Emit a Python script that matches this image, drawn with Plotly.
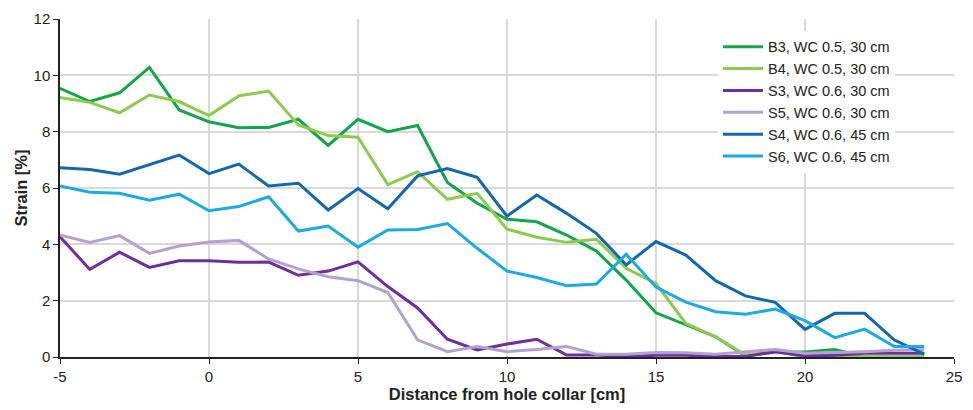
import plotly.graph_objects as go

distance = list(range(-5, 25))
x_tick_vals = [-5, 0, 5, 10, 15, 20, 25]
x_tick_text = ["-5", "0", "5", "10", "15", "20", "25"]

b3 = [9.54, 9.07, 9.38, 10.28, 8.77, 8.35, 8.14, 8.15, 8.44, 7.51, 8.44, 8.0, 8.22, 6.2, 5.46, 4.89,
      4.8, 4.33, 3.76, 2.73, 1.57, 1.14, 0.72, 0.04, 0.18, 0.18, 0.27, 0.0, 0.0, 0.0]
b4 = [9.21, 9.04, 8.67, 9.3, 9.07, 8.57, 9.27, 9.44, 8.24, 7.86, 7.8, 6.12, 6.58, 5.6, 5.81, 4.54,
      4.25, 4.07, 4.18, 3.15, 2.61, 1.19, 0.72, 0.07, 0.2, 0.0, 0.02, 0.0, 0.0, 0.0]
s3 = [4.27, 3.11, 3.72, 3.18, 3.42, 3.42, 3.36, 3.37, 2.9, 3.05, 3.38, 2.5, 1.74, 0.63, 0.25, 0.46,
      0.63, 0.07, 0.07, 0.02, 0.06, 0.06, 0.02, 0.02, 0.19, 0.04, 0.06, 0.13, 0.13, 0.13]
s5 = [4.33, 4.07, 4.31, 3.68, 3.94, 4.08, 4.14, 3.48, 3.13, 2.85, 2.71, 2.29, 0.61, 0.19, 0.37, 0.19,
      0.27, 0.37, 0.1, 0.1, 0.16, 0.15, 0.1, 0.19, 0.27, 0.13, 0.15, 0.19, 0.24, 0.27]
s4 = [6.72, 6.66, 6.49, 6.82, 7.17, 6.51, 6.85, 6.07, 6.17, 5.22, 5.98, 5.26, 6.43, 6.69, 6.38, 5.0,
      5.75, 5.1, 4.39, 3.27, 4.1, 3.62, 2.71, 2.17, 1.94, 0.98, 1.55, 1.55, 0.6, 0.1]
s6 = [6.07, 5.85, 5.81, 5.57, 5.78, 5.19, 5.34, 5.69, 4.47, 4.65, 3.9, 4.51, 4.53, 4.74, 3.86, 3.05,
      2.82, 2.53, 2.59, 3.65, 2.48, 1.95, 1.61, 1.52, 1.7, 1.29, 0.69, 0.99, 0.37, 0.37]

names = ["B3, WC 0.5, 30 cm", "B4, WC 0.5, 30 cm", "S3, WC 0.6, 30 cm",
         "S5, WC 0.6, 30 cm", "S4, WC 0.6, 45 cm", "S6, WC 0.6, 45 cm"]
series = [b3, b4, s3, s5, s4, s6]
colors = ["#13A54A", "#8CCB4C", "#6F2DA0", "#B3A2CF", "#1268B0", "#1CAAE6"]

fig = go.Figure()
for name, vals, col in zip(names, series, colors):
    fig.add_trace(go.Scatter(x=distance, y=vals, mode="lines", name=name,
                             line=dict(color=col, width=3)))

font_family = "Liberation Sans, Arial, sans-serif"
# page body has an 8px margin, so the figure is sized/offset to compensate
fig.update_layout(
    width=965, height=402,
    margin=dict(l=52, r=19, t=11, b=53),
    paper_bgcolor="white", plot_bgcolor="white",
    font=dict(family=font_family, size=15, color="#222"),
    showlegend=True,
    legend=dict(x=0.736, y=0.965, xanchor="left", yanchor="top",
                bgcolor="white", font=dict(size=14.5, color="#222"),
                tracegroupgap=0, itemwidth=40),
)
fig.update_xaxes(range=[-5, 25], tickvals=x_tick_vals, ticktext=x_tick_text,
                 showgrid=True, gridcolor="#D9D9D9",
                 gridwidth=1.5, showline=True, linecolor="#222", linewidth=1.5,
                 ticks="outside", ticklen=5, tickcolor="#222", zeroline=False, automargin=False,
                 tickfont=dict(size=15),
                 title=dict(text="<b>Distance from hole collar [cm]</b>", font=dict(size=16.5), standoff=3))
fig.update_yaxes(range=[0, 12], dtick=2, showgrid=True, gridcolor="#D9D9D9",
                 gridwidth=1.5, showline=True, linecolor="#222", linewidth=1.5,
                 ticks="outside", ticklen=5, tickcolor="#222", zeroline=False, automargin=False,
                 tickfont=dict(size=15),
                 title=dict(text="<b>Strain [%]</b>", font=dict(size=16.5), standoff=2))

fig.write_html("out.html")
